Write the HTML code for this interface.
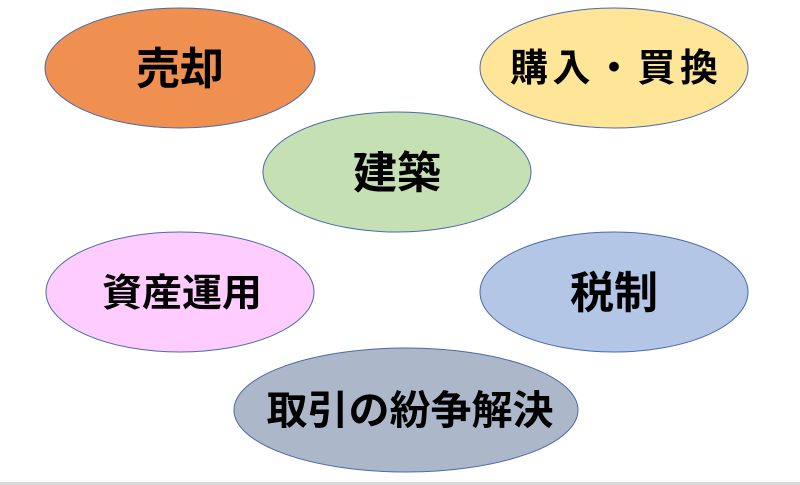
<!DOCTYPE html>
<html><head><meta charset="utf-8"><style>
html,body{margin:0;padding:0;background:#fff;width:800px;height:485px;overflow:hidden}
text{font-family:"Liberation Sans","Noto Sans CJK JP",sans-serif;font-weight:bold;fill:#000}
</style></head><body>
<svg width="800" height="485" viewBox="0 0 800 485" xmlns="http://www.w3.org/2000/svg">
<rect x="0" y="482" width="800" height="3" fill="#d9d9d9"/>
<g stroke="#4a6aa8" stroke-width="1">
<ellipse cx="180" cy="68" rx="135" ry="60" fill="#ef8f50"/>
<ellipse cx="614" cy="68" rx="134" ry="60" fill="#ffe597"/>
<ellipse cx="397" cy="172" rx="134" ry="60" fill="#c5e0b3"/>
<ellipse cx="180" cy="292" rx="134" ry="60" fill="#ffccff"/>
<ellipse cx="614" cy="292" rx="134" ry="60" fill="#b3c6e6"/>
<ellipse cx="406" cy="410" rx="172" ry="62" fill="#acb8c9"/>
</g>
<text x="180" y="84" font-size="44" text-anchor="middle">売却</text>
<text x="614" y="81" font-size="38" text-anchor="middle" textLength="208" lengthAdjust="spacing">購入・買換</text>
<text x="182" y="306" font-size="38" text-anchor="middle" textLength="160" lengthAdjust="spacingAndGlyphs">資産運用</text>
<text x="397" y="188" font-size="44" text-anchor="middle">建築</text>
<text x="614" y="308" font-size="44" text-anchor="middle">税制</text>
<text x="410" y="424" font-size="40" text-anchor="middle" textLength="287" lengthAdjust="spacingAndGlyphs">取引の紛争解決</text>
</svg>
</body></html>
